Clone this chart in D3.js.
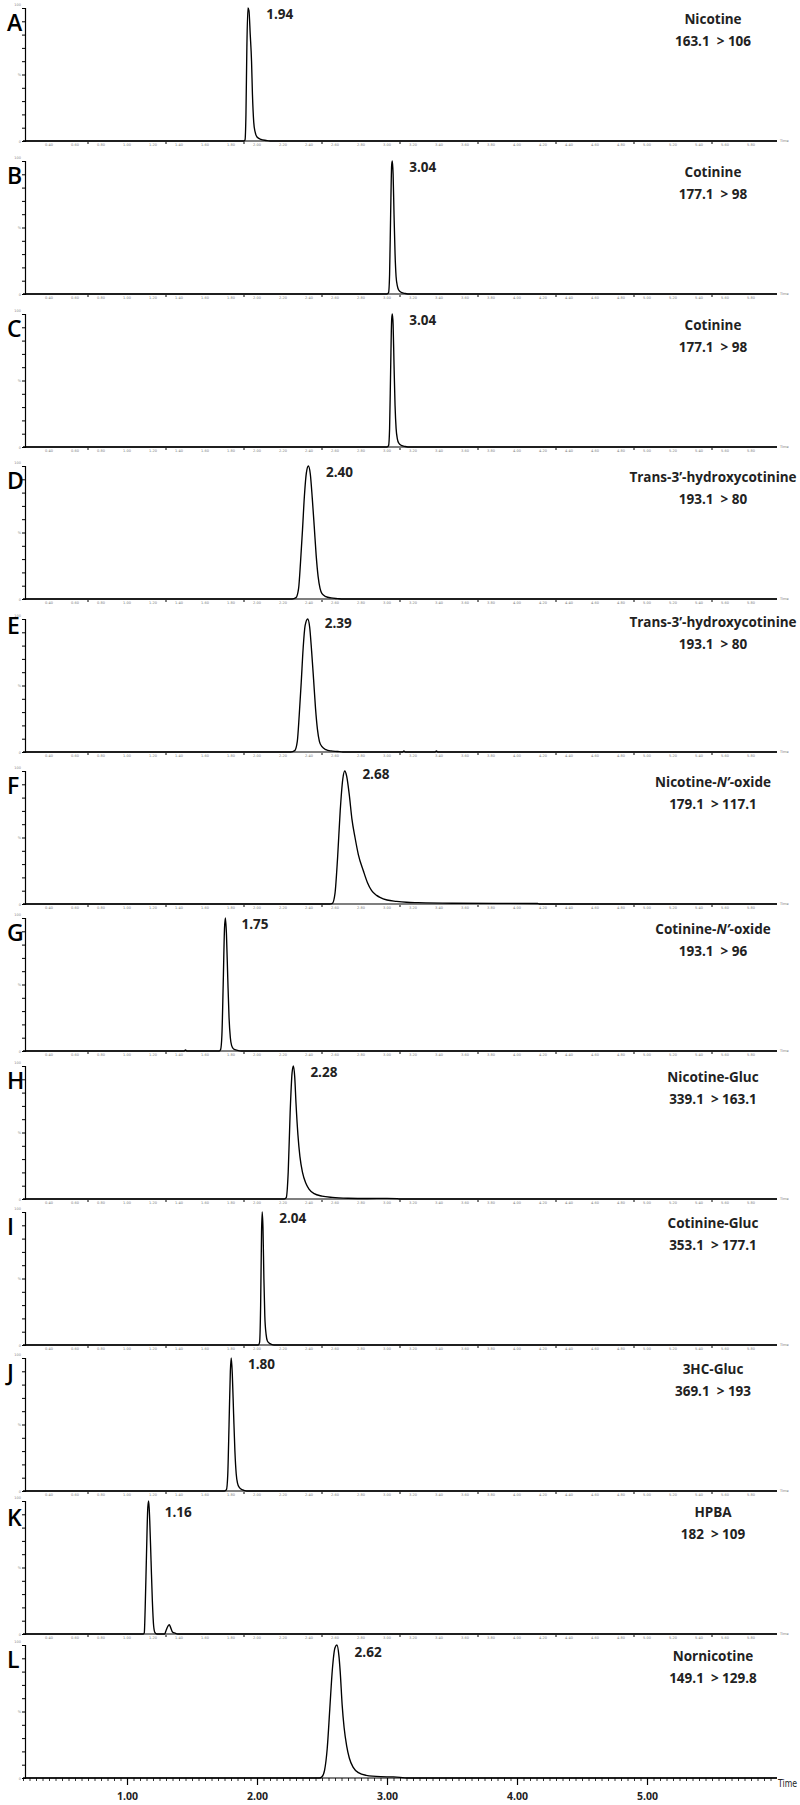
<!DOCTYPE html>
<html><head><meta charset="utf-8">
<script src="https://cdn.jsdelivr.net/npm/d3@7/dist/d3.min.js"></script>
<style>body{margin:0;background:#fff}</style>
</head><body>
<svg id="chart" width="800" height="1805"></svg>
<script>
// ---------- data ----------
const panelLetters = ["A","B","C","D","E","F","G","H","I","J","K","L"];
const compoundNames = ["Nicotine","Cotinine","Cotinine","Trans-3\u2019-hydroxycotinine","Trans-3\u2019-hydroxycotinine",
  "Nicotine-N\u2019-oxide","Cotinine-N\u2019-oxide","Nicotine-Gluc","Cotinine-Gluc","3HC-Gluc","HPBA","Nornicotine"];
const precursorIons = ["163.1","177.1","177.1","193.1","193.1","179.1","193.1","339.1","353.1","369.1","182","149.1"];
const productIons = ["106","98","98","80","80","117.1","96","163.1","177.1","193","109","129.8"];
const retentionLabels = ["1.94","3.04","3.04","2.40","2.39","2.68","1.75","2.28","2.04","1.80","1.16","2.62"];
const retentionTimes = [1.94,3.04,3.04,2.40,2.39,2.68,1.75,2.28,2.04,1.80,1.16,2.62];
const timeTicks = [1,2,3,4,5];
const timeTickLabels = ["1.00","2.00","3.00","4.00","5.00"];
const timeRange = [0.2, 6.0];

// trace points [time (min), relative intensity (%)]
const traceA = [[1.90,0],[1.908,1],[1.915,20],[1.922,70],[1.93,100],[1.938,98],[1.948,80],[1.958,60],[1.965,35],[1.975,14],[1.985,7],[2.0,3],[2.03,1.2],[2.07,0.4],[2.1,0]];
const traceB = [[3.0,0],[3.012,1],[3.02,15],[3.028,60],[3.036,97],[3.041,100],[3.047,90],[3.054,60],[3.062,30],[3.07,13],[3.08,6],[3.09,3],[3.11,1.2],[3.14,0.4],[3.18,0]];
const traceC = [[3.0,0],[3.012,1],[3.02,14],[3.028,58],[3.036,96],[3.041,100],[3.047,92],[3.054,62],[3.062,31],[3.07,14],[3.08,6],[3.09,3],[3.11,1.2],[3.14,0.4],[3.18,0]];
const traceD = [[2.27,0],[2.30,1],[2.32,8],[2.335,28],[2.35,52],[2.365,78],[2.38,95],[2.395,100],[2.41,94],[2.425,76],[2.44,55],[2.455,33],[2.47,17],[2.485,8],[2.50,4],[2.53,1.8],[2.57,0.8],[2.62,0.3],[2.66,0]];
const traceE = [[2.26,0],[2.29,1],[2.31,8],[2.325,28],[2.34,52],[2.355,78],[2.37,95],[2.39,100],[2.405,94],[2.42,76],[2.435,55],[2.45,33],[2.465,17],[2.48,8],[2.50,4],[2.53,1.8],[2.57,0.8],[2.62,0.4],[2.66,0],[3.12,0],[3.13,0.8],[3.14,0],[3.37,0],[3.38,0.8],[3.39,0]];
const traceF = [[2.56,0],[2.58,0.5],[2.60,8],[2.62,35],[2.64,70],[2.66,94],[2.675,100],[2.69,96],[2.71,82],[2.73,64],[2.754,50],[2.78,37],[2.818,25],[2.85,16],[2.882,10],[2.92,6.5],[2.946,5],[3.0,3],[3.074,2],[3.15,1.3],[3.24,1],[3.5,0.6],[4.16,0.4],[4.17,0]];
const traceG = [[1.44,0],[1.45,0.8],[1.46,0],[1.71,0],[1.72,1],[1.73,12],[1.74,50],[1.75,92],[1.757,100],[1.765,88],[1.775,55],[1.785,25],[1.795,10],[1.805,4],[1.82,1.5],[1.85,0.5],[1.88,0]];
const traceH = [[2.21,0],[2.225,1],[2.24,20],[2.255,65],[2.27,95],[2.28,100],[2.29,92],[2.30,72],[2.315,48],[2.33,32],[2.35,20],[2.375,12],[2.40,7.5],[2.44,4],[2.50,2.2],[2.58,1.2],[2.70,0.6],[2.85,0.4],[3.0,0.5],[3.08,0.3],[3.1,0]];
const traceI = [[2.01,0],[2.02,2],[2.028,30],[2.035,85],[2.04,100],[2.046,88],[2.053,50],[2.06,22],[2.07,8],[2.08,3],[2.10,1],[2.13,0]];
const traceJ = [[1.75,0],[1.765,1],[1.775,12],[1.785,50],[1.795,90],[1.802,100],[1.81,88],[1.82,58],[1.83,30],[1.84,13],[1.85,6],[1.865,2.5],[1.89,0.8],[1.92,0]];
const traceK = [[1.125,0],[1.133,1],[1.14,20],[1.15,60],[1.16,95],[1.167,100],[1.175,85],[1.185,55],[1.195,25],[1.205,6],[1.215,1],[1.23,0],[1.29,0],[1.30,2.5],[1.315,6],[1.325,7],[1.335,5],[1.35,1.5],[1.37,0.6],[1.39,0]];
const traceL = [[2.48,0],[2.50,1],[2.52,6],[2.54,22],[2.56,52],[2.58,82],[2.60,98],[2.615,100],[2.63,92],[2.64,80],[2.655,55],[2.67,38],[2.69,24],[2.71,15],[2.74,8],[2.78,4],[2.84,2],[2.95,1],[3.05,0.8],[3.1,0.5],[3.15,0]];
const traces = [traceA,traceB,traceC,traceD,traceE,traceF,traceG,traceH,traceI,traceJ,traceK,traceL];

// ---------- layout ----------
const panelBaselines = [141,294,447,599,752,904,1051,1199,1345,1491,1634,1778];
const letterOffsets  = [23,23,23,23,15,23,23,23,23,23,25,23];
const rtOffsets      = [11,11,11,11,9,8,11,11,11,11,16,12];
const nameOffsets    = [16,16,16,16,8,16,16,16,16,16,16,16];
const plotHeight = 133;
const axisX = 25;

const svg = d3.select("#chart");
svg.append("rect").attr("width",800).attr("height",1805).attr("fill","#fff");

const x = d3.scaleLinear().domain(timeRange).range([23,777]);
const line = d3.line().x(d=>x(d[0])).y(d=>d.y).curve(d3.curveMonotoneX);
const smallTicks = d3.range(4, 60, 2).map(v=>v/10);
const dotTicks = d3.range(7, 60, 6).map(v=>v/10);

panelLetters.forEach((letter,i)=>{
  const base = panelBaselines[i];
  const top = base - plotHeight;
  const y = d3.scaleLinear().domain([0,100]).range([base, top]);
  const g = svg.append("g");

  // y axis
  const yAxis = d3.axisLeft(y).tickValues(d3.range(0,101,10)).tickSize(3).tickFormat("");
  g.append("g").attr("transform",`translate(${axisX},0)`).call(yAxis)
    .call(s=>{s.select(".domain").attr("stroke","#000").attr("stroke-width",1.2);
              s.selectAll(".tick line").attr("stroke","#000").attr("stroke-width",1);});
  // tiny y labels
  [[100,"100",-2],[50,"%",1.5],[0,"0",1.5]].forEach(([v,t,dy])=>{
    g.append("text").attr("x",axisX-4).attr("y",y(v)+dy).attr("text-anchor","end")
     .attr("font-size",3.5).attr("fill","#888").attr("font-family","DejaVu Sans").text(t);
  });

  if (i < 11) {
    g.append("line").attr("x1",axisX).attr("x2",x(timeRange[1])).attr("y1",base).attr("y2",base)
      .attr("stroke","#000").attr("stroke-width",1.2);
    smallTicks.forEach(t=>{
      g.append("text").attr("x",x(t)).attr("y",base+5).attr("text-anchor","middle")
       .attr("font-size",3.5).attr("fill","#777").attr("font-family","DejaVu Sans").text(t.toFixed(2));
    });
    dotTicks.forEach(t=>{
      g.append("line").attr("x1",x(t)).attr("x2",x(t)).attr("y1",base+1).attr("y2",base+3)
       .attr("stroke","#000").attr("stroke-width",1);
    });
    g.append("text").attr("x",x(timeRange[1])+3).attr("y",base+1).attr("font-size",3.5)
     .attr("fill","#777").attr("font-family","DejaVu Sans").text("Time");
  } else {
    const xAxisMinor = d3.axisBottom(x).tickValues(d3.range(4,120,1).map(v=>v/20)).tickSize(3).tickFormat("");
    g.append("g").attr("transform",`translate(0,${base})`).call(xAxisMinor)
      .call(s=>{s.select(".domain").attr("stroke","#000").attr("stroke-width",1.2).attr("d",`M${axisX},0H${x(timeRange[1])}`);
                s.selectAll(".tick line").attr("stroke","#000").attr("stroke-width",0.8);});
    const xAxisMajor = d3.axisBottom(x).tickValues(timeTicks).tickSize(7).tickFormat((d,k)=>timeTickLabels[k]);
    g.append("g").attr("transform",`translate(0,${base})`).call(xAxisMajor)
      .call(s=>{s.select(".domain").remove();
                s.selectAll(".tick line").attr("stroke","#000").attr("stroke-width",1.2);
                s.selectAll(".tick text").attr("font-family","Open Sans").attr("font-weight",700)
                 .attr("font-size",10.5).attr("fill","#222").attr("dy",0).attr("y",22);});
    g.append("text").attr("x",x(timeRange[1])+1).attr("y",base+9).attr("font-size",10)
     .attr("font-family","DejaVu Sans Condensed").attr("fill","#222")
     .attr("textLength",19).attr("lengthAdjust","spacingAndGlyphs").text("Time");
  }

  // trace
  const pts = [[timeRange[0],0], ...traces[i], [timeRange[1],0]].map(d=>{const o=[d[0],d[1]]; o.y=y(d[1]); return o;});
  g.append("path").attr("d",line(pts)).attr("fill","none").attr("stroke","#000").attr("stroke-width",1.35);

  // panel letter
  g.append("text").attr("x",7).attr("y",top+letterOffsets[i]).attr("font-family","Open Sans")
   .attr("font-weight",600).attr("font-size",23).attr("fill","#000").text(letter);

  // retention label
  g.append("text").attr("x",x(retentionTimes[i])+17).attr("y",top+rtOffsets[i])
   .attr("font-family","Open Sans").attr("font-weight",700).attr("font-size",13.5).attr("fill","#222")
   .text(retentionLabels[i]);

  // compound name + transition
  const nm = g.append("text").attr("x",713).attr("y",top+nameOffsets[i]).attr("text-anchor","middle")
   .attr("font-family","Open Sans").attr("font-weight",700).attr("font-size",13.5).attr("fill","#222");
  const name = compoundNames[i];
  const m = name.match(/^(.*-)(N\u2019)(-.*)$/);
  if (m) { nm.append("tspan").text(m[1]); nm.append("tspan").attr("font-style","italic").text(m[2]); nm.append("tspan").text(m[3]); }
  else nm.text(name);
  g.append("text").attr("x",713).attr("y",top+nameOffsets[i]+22).attr("text-anchor","middle")
   .attr("font-family","Open Sans").attr("font-weight",700).attr("font-size",13.5).attr("fill","#222")
   .attr("xml:space","preserve").text(precursorIons[i] + "  > " + productIons[i]);
});
</script>
</body></html>
